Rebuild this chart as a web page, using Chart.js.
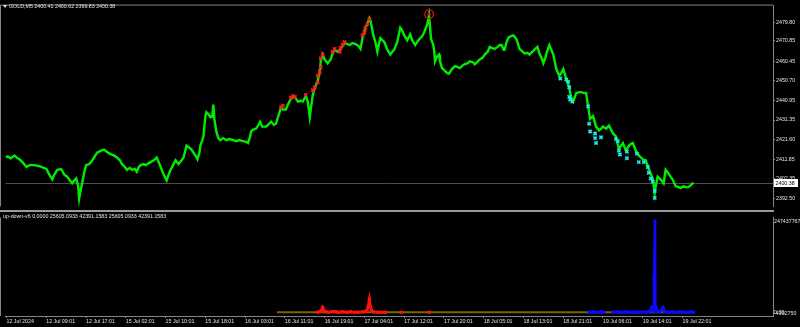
<!DOCTYPE html>
<html><head><meta charset="utf-8">
<script src="https://cdn.jsdelivr.net/npm/chart.js@4.4.1/dist/chart.umd.min.js"></script>
<style>
html,body{margin:0;padding:0;background:#000;width:800px;height:327px;overflow:hidden;}
#c1{position:absolute;left:0;top:0;}
#c2{position:absolute;left:0;top:212px;}
.t{position:absolute;color:#e4e4e4;font-family:'Liberation Sans',Arial,sans-serif;font-size:5.3px;white-space:nowrap;line-height:6px;}
#tri{position:absolute;left:3px;top:5px;width:0;height:0;border-left:2px solid transparent;border-right:2px solid transparent;border-top:3px solid #e4e4e4;}
</style></head>
<body>
<canvas id="c1" width="800" height="212"></canvas>
<canvas id="c2" width="800" height="115"></canvas>
<div id="tri"></div>
<div class="t" id="title1" style="left:9px;top:3px"></div>
<div class="t" id="title2" style="left:3px;top:213px"></div>
<script>
// ---------- data ----------
const symbolName = 'GOLD,M5';
const lastBar = [2400.41, 2400.62, 2399.83, 2400.38]; // open high low close
const indicatorName = 'up-down-v6';
const indicatorReadout = [0.0000, 25605.0933, 42391.1583, 25605.0933, 42391.1583];

const timeTickSlots = [0,40,80,120,160,200,240,280,320,360,400,440,480,520,560,600,640,680];
const timeTickLabels = ['12 Jul 2024','12 Jul 09:01','12 Jul 17:01','15 Jul 02:01','15 Jul 10:01','15 Jul 18:01','16 Jul 03:01','16 Jul 11:01','16 Jul 19:01','17 Jul 04:01','17 Jul 12:01','17 Jul 20:01','18 Jul 05:01','18 Jul 13:01','18 Jul 21:01','19 Jul 06:01','19 Jul 14:01','19 Jul 22:01'];

const priceTicks = [2392.50, 2402.35, 2411.85, 2421.60, 2431.35, 2440.95, 2450.70, 2460.45, 2470.85, 2479.80];

const priceSlots = [-1,1,4,8,11,13,16,20,23,28,32,35,40,43,46,48,51,55,58,61,63,66,68,70,72,73,74,76,78,80,83,85,88,91,95,98,102,105,108,111,114,116,119,121,124,126,129,131,133,135,138,140,143,145,148,151,153,155,158,161,163,165,168,170,173,176,178,180,181,184,186,188,190,192,194,195,197,198,200,201,203,205,207,208,209,211,213,215,218,221,224,228,231,234,238,241,243,245,246,248,251,253,255,257,259,261,264,266,269,271,274,276,278,281,283,286,288,290,293,296,298,301,303,305,306,308,310,313,315,316,318,320,323,326,328,330,333,336,338,340,343,345,348,351,354,356,358,359,361,363,365,366,368,369,371,373,375,376,378,380,383,386,388,390,393,395,396,398,400,403,406,408,411,413,416,418,420,423,425,426,427,429,430,431,433,435,436,438,441,443,445,448,451,454,456,459,461,464,466,469,471,474,476,479,481,484,486,488,491,494,496,498,500,501,503,505,507,510,513,516,518,521,524,526,529,531,534,536,538,540,542,543,546,548,550,553,556,558,560,563,566,568,570,573,576,578,581,583,585,587,590,593,596,598,600,603,606,608,610,613,616,618,620,623,626,628,630,633,636,638,640,643,646,648,650,652,653,655,658,661,663,666,668,670,673,676,678,681,683,686,688,691];
const priceValues = [2412.8,2413.3,2412.4,2413.8,2412.4,2411.9,2410.5,2408.1,2409.0,2409.0,2408.6,2408.1,2407.1,2404.3,2401.9,2404.3,2406.7,2407.1,2404.3,2403.3,2401.9,2400.0,2401.4,2402.4,2398.6,2392.4,2395.2,2400.0,2405.2,2409.0,2409.5,2410.5,2412.8,2415.2,2416.2,2416.7,2415.2,2414.3,2413.8,2412.8,2411.4,2409.5,2408.1,2406.7,2407.6,2406.7,2407.1,2405.7,2408.1,2409.0,2409.5,2409.0,2410.0,2410.5,2411.4,2412.8,2410.5,2408.1,2404.3,2401.4,2404.3,2406.7,2409.5,2411.4,2409.5,2411.4,2412.8,2416.7,2418.6,2417.6,2416.7,2415.2,2413.8,2411.9,2415.2,2419.0,2421.4,2423.3,2433.3,2435.2,2434.3,2432.8,2433.3,2439.0,2431.9,2425.7,2422.4,2421.4,2422.4,2421.4,2421.9,2421.4,2420.9,2421.4,2420.9,2420.5,2420.0,2423.3,2425.7,2426.6,2427.1,2428.6,2430.5,2428.1,2428.1,2428.1,2429.5,2430.5,2429.0,2429.5,2434.3,2437.6,2436.6,2436.6,2439.0,2441.9,2442.8,2442.8,2440.5,2440.9,2440.5,2443.3,2440.5,2432.8,2436.6,2443.8,2447.1,2450.9,2454.7,2460.4,2463.8,2461.4,2459.5,2461.4,2464.3,2466.2,2465.2,2466.6,2468.1,2469.5,2469.0,2468.5,2469.5,2469.0,2468.1,2466.6,2471.9,2473.8,2477.1,2479.0,2481.9,2480.9,2475.7,2473.3,2470.0,2465.2,2470.0,2471.9,2470.9,2470.0,2466.2,2463.8,2465.2,2466.2,2470.0,2474.7,2477.1,2475.7,2473.3,2470.9,2473.8,2470.9,2468.5,2470.0,2471.9,2472.8,2474.7,2478.5,2483.3,2477.1,2471.4,2469.0,2466.2,2460.4,2462.8,2463.8,2460.4,2457.1,2455.7,2454.7,2454.3,2456.6,2458.1,2457.6,2457.1,2458.5,2459.0,2459.5,2460.4,2460.0,2459.0,2460.4,2461.4,2462.3,2463.8,2465.2,2467.6,2467.1,2466.6,2467.6,2468.5,2468.5,2466.2,2466.2,2470.0,2472.3,2472.8,2473.3,2471.4,2466.6,2465.7,2464.3,2464.7,2463.8,2465.2,2466.2,2467.6,2464.3,2462.3,2459.5,2462.3,2464.3,2468.5,2466.2,2463.8,2456.6,2453.3,2454.7,2456.6,2451.9,2447.6,2442.4,2440.5,2444.7,2445.2,2445.2,2444.7,2444.7,2438.1,2431.9,2433.3,2428.1,2426.2,2427.1,2428.1,2427.1,2428.6,2426.6,2424.7,2423.3,2416.7,2418.6,2420.0,2416.2,2418.6,2419.5,2420.0,2416.2,2413.8,2412.8,2411.9,2411.4,2407.1,2404.8,2402.4,2395.2,2398.6,2403.3,2401.9,2400.0,2406.7,2404.8,2403.3,2401.9,2398.6,2398.1,2397.6,2398.6,2398.1,2398.1,2399.0,2400.38];

const sellSlots = [276,278,286,288,290,301,308,310,313,313,315,316,316,318,328,330,335,336,338,340,358,360,361,363,365];
const sellPrices = [2437.6,2438.5,2442.4,2443.3,2442.8,2443.8,2446.2,2447.6,2450.0,2453.3,2455.2,2457.6,2461.9,2463.8,2465.2,2466.6,2465.2,2467.1,2468.5,2470.0,2473.3,2474.7,2477.1,2479.0,2481.4];

const buySlots = [557,563,565,566,566,567,569,585,586,587,592,592,593,598,613,615,616,617,624,624,634,636,641,645,646,648,650,652,652];
const buyPrices = [2451.9,2451.4,2450.4,2447.6,2442.8,2441.4,2440.5,2438.1,2429.5,2425.7,2424.7,2422.4,2420.0,2422.8,2421.9,2420.9,2416.2,2414.3,2415.7,2412.4,2414.7,2410.5,2410.5,2408.1,2405.2,2402.4,2400.9,2396.2,2392.8];

const peakSlots = [425];
const peakPrices = [2483.8];

const indTickValues = [-4192750, 0, 247437767];
const indTickLabels = ['-4192750', '0.00', '247437767'];

const zeroSlots = [272, 691];
const zeroValues = [0, 0];

const upSlots = [313,316,318,319,321,324,328,331,334,338,342,346,350,354,358,361,363,365,366,367,369,373,377,381,382,397,398,425];
const upValues = [0,3e6,13e6,6e6,1e6,0,2e6,1e6,0,1e6,0,1e6,0,0,1e6,2e6,8e6,36e6,15e6,5e6,1e6,0,0,0,null,0,null,0];

const downSlots = [586,590,594,598,601,605,610,614,618,623,628,630,631,632,636,640,644,647,649,650.5,651.3,652.3,652.7,653.2,655,657,660.3,662,666,670,674,678,683,688,691];
const downValues = [0,1e6,0,1e6,0,null,0,1e6,0,1e6,0,0,null,0,0,1e6,0,2e6,13e6,3e6,91e6,247437767,2e6,13e6,3e6,1e6,13e6,2e6,0,1e6,0,1e6,0,1e6,0];

// ---------- styling ----------
const FONT = "'Liberation Sans', Arial, sans-serif";
const FS = 5.3;
const GRID = '#858585';
const TXT = '#e4e4e4';
const pts = (xs, ys) => xs.map((x, i) => ({x: x, y: ys[i]}));

document.getElementById('title1').textContent = symbolName + '  ' + lastBar.map(v => v.toFixed(2)).join(' ');
document.getElementById('title2').textContent = indicatorName + ' ' + indicatorReadout.map(v => v.toFixed(4)).join(' ');

const lastClose = lastBar[3];

const frameTop = {
  id: 'frameTop',
  beforeDraw(chart) {
    const c = chart.ctx, a = chart.chartArea;
    c.save();
    c.fillStyle = '#000'; c.fillRect(0, 0, chart.width, chart.height);
    c.strokeStyle = GRID; c.lineWidth = 1;
    c.beginPath();
    c.moveTo(0, a.top - 0.5); c.lineTo(a.right, a.top - 0.5);
    c.moveTo(0.5, a.top); c.lineTo(0.5, a.bottom);
    c.stroke();
    // current price line
    const y = Math.round(chart.scales.y.getPixelForValue(lastClose)) + 0.5;
    c.strokeStyle = '#4e4e4e';
    c.beginPath(); c.moveTo(a.left, y); c.lineTo(a.right, y); c.stroke();
    c.restore();
  },
  afterDraw(chart) {
    const c = chart.ctx, a = chart.chartArea;
    c.save();
    c.fillStyle = '#9a9a9a';
    c.fillRect(0, chart.height - 2, a.right + 1, 2);
    const y = Math.round(chart.scales.y.getPixelForValue(lastClose));
    c.fillStyle = '#ffffff';
    c.fillRect(a.right + 1, y - 4, 24, 8);
    c.fillStyle = '#000';
    c.font = FS + 'px ' + FONT;
    c.textBaseline = 'middle'; c.textAlign = 'left';
    c.fillText(lastClose.toFixed(2), a.right + 2.5, y + 0.3);
    c.restore();
  }
};

const frameBottom = {
  id: 'frameBottom',
  beforeDraw(chart) {
    const c = chart.ctx, a = chart.chartArea;
    c.save();
    c.fillStyle = '#000'; c.fillRect(0, 0, chart.width, chart.height);
    c.strokeStyle = GRID; c.lineWidth = 1;
    c.beginPath();
    c.moveTo(0.5, a.top); c.lineTo(0.5, a.bottom);
    c.stroke();
    c.restore();
  }
};

new Chart(document.getElementById('c1'), {
  type: 'line',
  data: {
    datasets: [
      { data: pts(sellSlots, sellPrices), showLine: false, pointStyle: 'crossRot', pointRadius: 2.3,
        pointBorderWidth: 1.6, borderColor: '#ff1a1a', backgroundColor: '#ff1a1a', order: 0 },
      { data: pts(buySlots, buyPrices), showLine: false, pointStyle: 'crossRot', pointRadius: 2.3,
        pointBorderWidth: 1.6, borderColor: '#22e8e8', backgroundColor: '#22e8e8', order: 0 },
      { data: pts(peakSlots, peakPrices), showLine: false, pointStyle: 'circle', pointRadius: 4.3,
        pointBorderWidth: 1.3, borderColor: '#e01515', backgroundColor: 'rgba(0,0,0,0)', order: 0 },
      { data: pts(peakSlots, peakPrices), showLine: false, pointStyle: 'circle', pointRadius: 1.4,
        pointBorderWidth: 0, borderColor: '#e01515', backgroundColor: '#e01515', order: 0 },
      { data: pts(priceSlots, priceValues), borderColor: '#00ec00', borderWidth: 2.4, pointRadius: 0,
        tension: 0, order: 1 }
    ]
  },
  options: {
    responsive: false, animation: false, devicePixelRatio: 1,
    layout: { padding: { left: 1, top: 2, right: 0, bottom: 1 } },
    plugins: { legend: { display: false }, tooltip: { enabled: false } },
    scales: {
      x: { type: 'linear', min: -1, max: 771, display: false },
      y: {
        position: 'right', min: 2388.56, max: 2488.05,
        afterBuildTicks(s) { s.ticks = priceTicks.map(v => ({ value: v })); },
        afterFit(s) { s.width = 27; s.paddingTop = 0; s.paddingBottom = 0; },
        ticks: { autoSkip: false, crossAlign: 'near', padding: 1, color: TXT,
          font: { family: FONT, size: FS }, callback: v => Number(v).toFixed(2) },
        grid: { drawOnChartArea: false, drawTicks: true, tickLength: 2, color: GRID },
        border: { display: true, color: GRID }
      }
    }
  },
  plugins: [frameTop]
});

new Chart(document.getElementById('c2'), {
  type: 'line',
  data: {
    datasets: [
      { data: pts(upSlots, upValues), borderColor: '#ff1010', backgroundColor: '#ff1010', borderWidth: 2.6,
        pointStyle: 'crossRot', pointRadius: 2, pointBorderWidth: 1.5, spanGaps: false, tension: 0, order: 0 },
      { data: pts(downSlots, downValues), borderColor: '#0a0aff', backgroundColor: '#0a0aff', borderWidth: 2.6,
        pointStyle: 'crossRot', pointRadius: 2, pointBorderWidth: 1.5, spanGaps: false, tension: 0, order: 0 },
      { data: pts(zeroSlots, zeroValues), borderColor: '#7c6405', borderWidth: 2, pointRadius: 0, order: 2 }
    ]
  },
  options: {
    responsive: false, animation: false, devicePixelRatio: 1,
    layout: { padding: { left: 1, top: 1, right: 0, bottom: 0 } },
    plugins: { legend: { display: false }, tooltip: { enabled: false } },
    scales: {
      x: {
        type: 'linear', position: 'bottom', min: -1, max: 771,
        afterBuildTicks(s) { s.ticks = timeTickSlots.map(v => ({ value: v })); },
        afterFit(s) { s.height = 11; s.paddingLeft = 0; s.paddingRight = 0; },
        ticks: { autoSkip: false, maxRotation: 0, minRotation: 0, align: 'start', padding: 0.5,
          color: TXT, font: { family: FONT, size: FS },
          callback: (v, i) => timeTickLabels[timeTickSlots.indexOf(v)] },
        grid: { drawOnChartArea: false, drawTicks: true, tickLength: 2, color: GRID },
        border: { display: true, color: GRID }
      },
      y: {
        position: 'right', min: -10.4e6, max: 257.8e6,
        afterBuildTicks(s) { s.ticks = indTickValues.map(v => ({ value: v })); },
        afterFit(s) { s.width = 27; s.paddingTop = 0; s.paddingBottom = 0; },
        ticks: { autoSkip: false, crossAlign: 'near', padding: 1, color: TXT,
          font: { family: FONT, size: FS },
          callback: v => indTickLabels[indTickValues.indexOf(v)] },
        grid: { drawOnChartArea: false, drawTicks: false },
        border: { display: true, color: GRID }
      }
    }
  },
  plugins: [frameBottom]
});
</script>
</body></html>
